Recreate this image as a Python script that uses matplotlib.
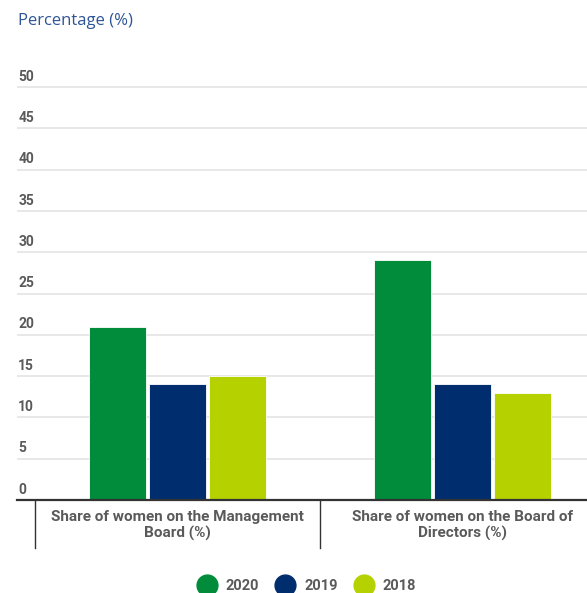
import numpy as np
import matplotlib.pyplot as plt
from matplotlib.lines import Line2D

plt.rcParams['font.family'] = ['Roboto', 'DejaVu Sans']

categories = ['Share of women on the Management\nBoard (%)',
              'Share of women on the Board of\nDirectors (%)']
years = ['2020', '2019', '2018']
values = {'2020': [21, 29],
          '2019': [14, 14],
          '2018': [15, 13]}
yticks = [0, 5, 10, 15, 20, 25, 30, 35, 40, 45, 50]

GREEN = '#008C3A'; NAVY = '#002D6E'; LIME = '#B5D200'
colors = [GREEN, NAVY, LIME]
GRAY = '#5a5a5a'

W, H = 587, 593
fig = plt.figure(figsize=(W/100, H/100), dpi=100)
# axes: left at px 17, right at 587, bottom at px 500, top for ylim 51
ytop = 51
ax_h = 413 * ytop / 50
ax = fig.add_axes([17/W, (H-500)/H, (587-17)/W, ax_h/H])

x = np.arange(len(categories))
bw = 0.2
step = 0.21
for i, (yr, c) in enumerate(zip(years, colors)):
    ax.bar(x + (i-1)*step, values[yr], width=bw, color=c,
           edgecolor='white', linewidth=0.6, zorder=3)

ax.set_xlim(-0.5 - 18/285, 0.5 + 267/285)
ax.set_ylim(0, ytop)
ax.set_yticks(yticks)
ax.yaxis.grid(True, color='#e4e4e4', lw=1.2, zorder=0)
ax.tick_params(axis='y', length=0, labelleft=False)
ax.tick_params(axis='x', length=0, labelbottom=False)
for s in ['top', 'right', 'left']:
    ax.spines[s].set_visible(False)
ax.spines['bottom'].set_color('#333333')
ax.spines['bottom'].set_linewidth(1.6)
ax.spines['bottom'].set_zorder(4)

for v in yticks:
    ax.text(0.002, v + 0.4, str(v), transform=ax.get_yaxis_transform(),
            ha='left', va='bottom', fontsize=10, color=GRAY, fontweight='bold')

# category labels and dividers below the axis
for xi, lab in zip(x, categories):
    ax.annotate(lab, xy=(xi, 0), xytext=(0, -7), textcoords='offset points',
                ha='center', va='top', fontsize=11, color=GRAY,
                fontweight='bold', linespacing=1.2, annotation_clip=False)
for d in [-0.5, 0.5, 1.5]:
    ax.plot([d, d], [0, -48 * 50 / 413], color='#333333', lw=1,
            clip_on=False, zorder=4)

fig.text(18/W, 1 - 21/H, 'Percentage (%)', color='#2E5597', fontsize=12,
         family=['Open Sans', 'DejaVu Sans'], ha='left', va='center')

handles = [Line2D([], [], marker='o', ls='', markersize=15, color=c) for c in colors]
leg = fig.legend(handles, years, loc='center', bbox_to_anchor=(0.522, 1 - 586/H),
                 ncol=3, frameon=False, handletextpad=0.6, columnspacing=1.1,
                 handlelength=1.4, prop={'size': 10.5, 'weight': 'bold'})
for t in leg.get_texts():
    t.set_color(GRAY)

fig.savefig('out.png', dpi=100)
